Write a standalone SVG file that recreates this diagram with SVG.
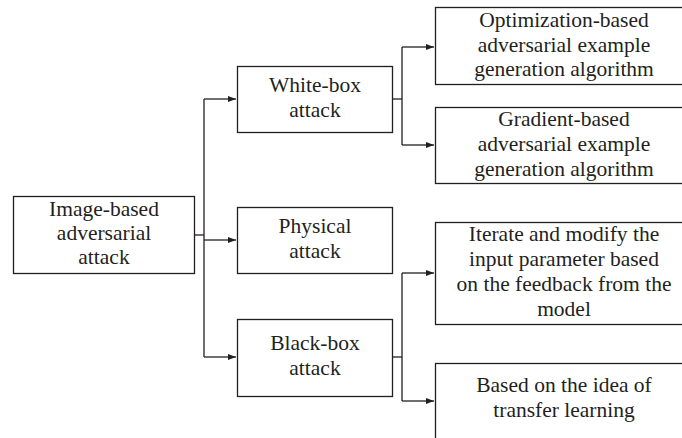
<svg xmlns="http://www.w3.org/2000/svg" width="682" height="438" viewBox="0 0 682 438">
<style>
.box{fill:#fff;stroke:#231f20;stroke-width:1.3}
.t{font-family:'Liberation Serif','DejaVu Serif',serif;font-size:21.5px;fill:#231f20;text-anchor:middle}
.c{fill:none;stroke:#231f20;stroke-width:1.3}
</style>
<defs>
<marker id="ah" markerWidth="8" markerHeight="6" refX="8" refY="3" orient="auto" markerUnits="userSpaceOnUse">
<path d="M0,0 L8,3 L0,6 Z" fill="#231f20"/>
</marker>
</defs>
<g id="connectors">
<path class="c" d="M194,235 H204"/>
<path class="c" d="M204,99 V357"/>
<path class="c" d="M204,99 H236" marker-end="url(#ah)"/>
<path class="c" d="M204,240 H236" marker-end="url(#ah)"/>
<path class="c" d="M204,357 H236" marker-end="url(#ah)"/>
<path class="c" d="M392,99 H402"/>
<path class="c" d="M402,47 V145"/>
<path class="c" d="M402,47 H434" marker-end="url(#ah)"/>
<path class="c" d="M402,145 H434" marker-end="url(#ah)"/>
<path class="c" d="M392,357 H402"/>
<path class="c" d="M402,273 V401"/>
<path class="c" d="M402,273 H434" marker-end="url(#ah)"/>
<path class="c" d="M402,401 H434" marker-end="url(#ah)"/>
</g>
<g id="root">
<rect class="box" x="13.5" y="196.5" width="181" height="77"/>
<text class="t" x="104" y="216">Image-based</text>
<text class="t" x="104" y="240">adversarial</text>
<text class="t" x="104" y="264">attack</text>
</g>
<g id="whitebox">
<rect class="box" x="237.5" y="66.5" width="155" height="66"/>
<text class="t" x="315" y="92">White-box</text>
<text class="t" x="315" y="117">attack</text>
</g>
<g id="physical">
<rect class="box" x="237.5" y="207.5" width="155" height="66"/>
<text class="t" x="315" y="233">Physical</text>
<text class="t" x="315" y="258">attack</text>
</g>
<g id="blackbox">
<rect class="box" x="237.5" y="319.5" width="155" height="77"/>
<text class="t" x="315" y="350">Black-box</text>
<text class="t" x="315" y="375">attack</text>
</g>
<g id="optimization">
<rect class="box" x="435.5" y="7.5" width="258" height="77"/>
<text class="t" x="564" y="27">Optimization-based</text>
<text class="t" x="564" y="52">adversarial example</text>
<text class="t" x="564" y="76">generation algorithm</text>
</g>
<g id="gradient">
<rect class="box" x="435.5" y="107.5" width="258" height="76"/>
<text class="t" x="564" y="126">Gradient-based</text>
<text class="t" x="564" y="151">adversarial example</text>
<text class="t" x="564" y="176">generation algorithm</text>
</g>
<g id="iterate">
<rect class="box" x="435.5" y="222.5" width="258" height="102"/>
<text class="t" x="564" y="241">Iterate and modify the</text>
<text class="t" x="564" y="266">input parameter based</text>
<text class="t" x="564" y="291">on the feedback from the</text>
<text class="t" x="564" y="316">model</text>
</g>
<g id="transfer">
<rect class="box" x="435.5" y="363.5" width="258" height="90"/>
<text class="t" x="564" y="392">Based on the idea of</text>
<text class="t" x="564" y="417">transfer learning</text>
</g>
</svg>
